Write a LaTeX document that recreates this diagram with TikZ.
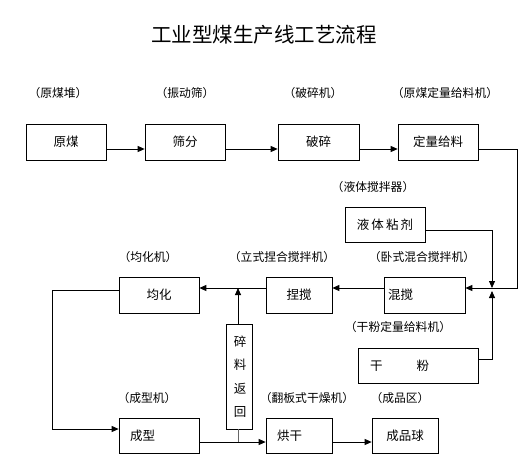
\documentclass[tikz,border=0pt]{standalone}
\usepackage{fontspec}
\setmainfont{Noto Sans CJK SC}
\usetikzlibrary{arrows.meta,positioning,calc}
\tikzstyle{line} = [draw, line width=0.8pt, -{Triangle[length=7pt,width=6pt]}]
\tikzstyle{box} = [draw, line width=0.7pt, minimum height=36pt, inner sep=0pt, font=\fontsize{12.5}{14}\selectfont]
\tikzstyle{leftbox} = [box, align=left]
\tikzstyle{note} = [font=\fontsize{11.8}{13}\selectfont]

\begin{document}
\begin{tikzpicture}[x=1pt, y=-1pt]
    \useasboundingbox (0,0) rectangle (532,457);
    \node [font=\fontsize{20.5}{24}\selectfont] (title) at (264,35) {工业型煤生产线工艺流程};

    % first row
    \node [note] (l_ymd) at (58,93) {（原煤堆）};
    \node [note] (l_zds) at (185,93) {（振动筛）};
    \node [note] (l_psj) at (313,93) {（破碎机）};
    \node [note] (l_dlj) at (445,93) {（原煤定量给料机）};
    \node [box, minimum width=80pt] (yuanmei) at (66,142) {原煤};
    \node [box, minimum width=80pt] (shaifen) at (185,142) {筛分};
    \node [box, minimum width=81pt] (posui) at (318.5,142) {破碎};
    \node [box, minimum width=80pt] (dingliang) at (438,142) {定量给料};

    % binder and dry powder
    \node [note] (l_yt) at (373,187) {（液体搅拌器）};
    \node [box, minimum width=80pt, minimum height=35pt] (yeti) at (385,224.5) {液\,体\,粘\,剂};
    \node [note] (l_gf) at (398,327) {（干粉定量给料机）};
    \node [leftbox, minimum height=35pt, inner xsep=12pt, text width=96pt] (ganfen) at (418,365.5) {干\hspace{34pt}粉};

    % second row
    \node [note] (l_jh) at (148,257) {（均化机）};
    \node [note] (l_nh) at (282,257) {（立式捏合搅拌机）};
    \node [note] (l_hh) at (422,257) {（卧式混合搅拌机）};
    \node [box, minimum width=80pt] (junhua) at (159,295) {均化};
    \node [box, minimum width=66pt] (niejiao) at (299,295) {捏搅};
    \node [leftbox, inner xsep=4pt, text width=73pt] (hunjiao) at (424.5,295) {混搅};

    % third row
    \node [note] (l_cx) at (147,398) {（成型机）};
    \node [note] (l_gz) at (307,398) {（翻板式干燥机）};
    \node [note] (l_cp) at (400,398) {（成品区）};
    \node [leftbox, minimum height=35pt, inner xsep=11pt, text width=58pt] (chengxing) at (159,435.5) {成型};
    \node [leftbox, minimum height=35pt, inner xsep=11pt, text width=44pt] (honggan) at (299,435.5) {烘干};
    \node [box, minimum width=66pt, minimum height=35pt] (chengpin) at (405,435.5) {成品球};
    \node [box, minimum width=26pt, minimum height=105pt, align=center, font=\fontsize{12.5}{23.5}\selectfont] (suiliao) at (239,376.5) {\,碎\\\,料\\\,返\\\,回};

    \coordinate (hui) at (492,288);
    \coordinate (fan) at (238,288);

    \path [line] ([yshift=-7pt]yuanmei.east) -- ([yshift=-7pt]shaifen.west);
    \path [line] ([yshift=-7pt]shaifen.east) -- ([yshift=-7pt]posui.west);
    \path [line] ([yshift=-7pt]posui.east) -- ([yshift=-7pt]dingliang.west);
    \draw [line width=0.8pt] ([yshift=-7pt]dingliang.east) -| (517,288) -- (hui);
    \path [line] (hui) -- ([yshift=7pt]hunjiao.east);
    \path [line] (yeti.east |- 0,230) -| (hui);
    \path [line] (ganfen.east |- 0,359) -| ([yshift=-3pt]hui);
    \path [line] ([yshift=7pt]hunjiao.west) -- ([yshift=7pt]niejiao.east);
    \path [line] ([yshift=7pt]niejiao.west) -- ([yshift=7pt]junhua.west -| junhua.east);
    \path [line] (suiliao.north -| fan) -- (fan);
    \path [line] ([yshift=5pt]junhua.west) -| (52,429) -- ([yshift=6.5pt]chengxing.west);
    \path [line] ([yshift=-6.5pt]chengxing.east) -- ([yshift=-6.5pt]honggan.west);
    \path [line] ([yshift=-6.5pt]honggan.east) -- ([yshift=-6.5pt]chengpin.west);
    \draw [line width=0.8pt, black!60] (suiliao.south -| fan) -- (fan |- 0,442);
\end{tikzpicture}
\end{document}
